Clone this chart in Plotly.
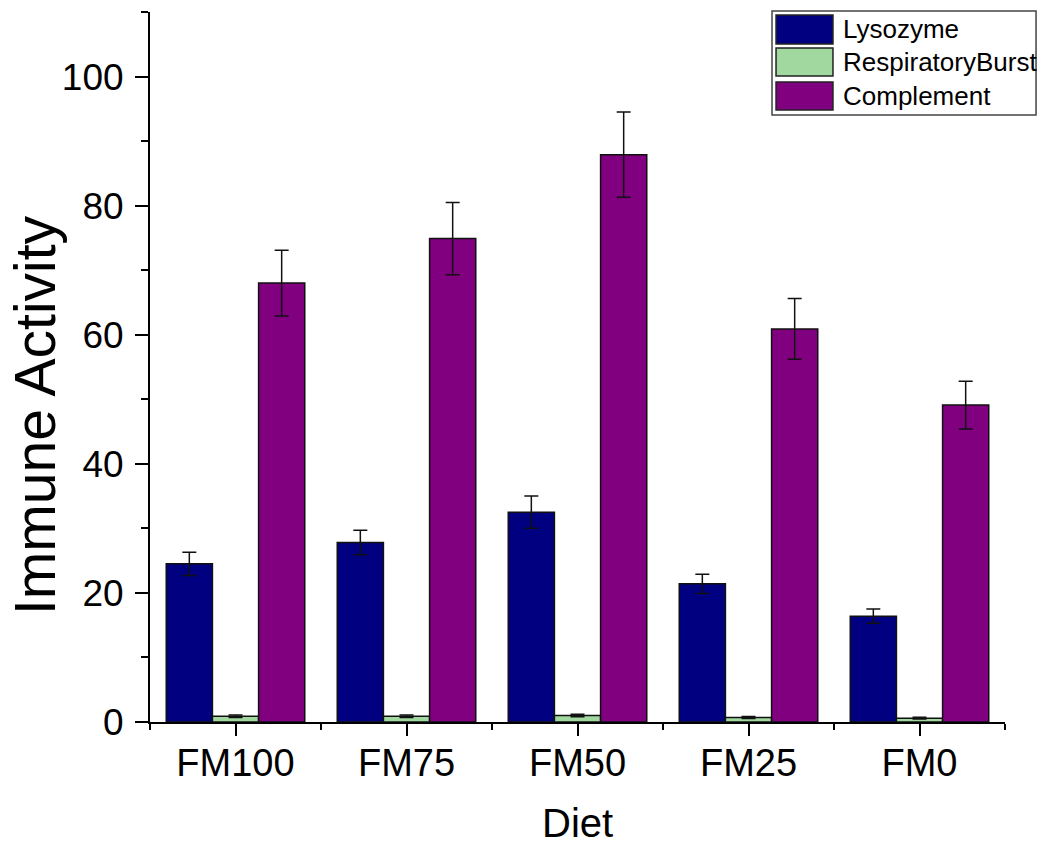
import plotly.graph_objects as go

diets = ["FM100", "FM75", "FM50", "FM25", "FM0"]
lysozyme = [24.5, 27.8, 32.5, 21.4, 16.4]
lysozyme_err = [1.8, 1.9, 2.5, 1.5, 1.1]
resp_burst = [0.9, 0.9, 1.0, 0.7, 0.6]
resp_burst_err = [0.2, 0.2, 0.2, 0.15, 0.15]
complement = [68.0, 74.9, 87.9, 60.9, 49.1]
complement_err = [5.1, 5.6, 6.6, 4.7, 3.7]

series = [
    ("Lysozyme", lysozyme, lysozyme_err, "#000080"),
    ("RespiratoryBurst", resp_burst, resp_burst_err, "#A0D8A0"),
    ("Complement", complement, complement_err, "#800080"),
]

FONT = "Liberation Sans, Arial, sans-serif"
xpos = list(range(len(diets)))

fig = go.Figure()
for name, vals, errs, col in series:
    fig.add_trace(go.Bar(
        x=xpos, y=vals, name=name,
        marker=dict(color=col, line=dict(color="#111111", width=1.5)),
        error_y=dict(type="data", array=errs, visible=True,
                     color="#111111", thickness=1.5, width=7),
        showlegend=False,
    ))

# manual legend (large swatches as in reference)
rows = [(0.9958, 0.9549, 0.9754), (0.9493, 0.9099, 0.9296), (0.9014, 0.8620, 0.8817)]
shapes = [dict(type="rect", xref="paper", yref="paper", x0=0.7275, x1=1.0363,
               y0=0.8549, y1=1.0014, line=dict(color="#444444", width=1.5),
               fillcolor="white", layer="above")]
annotations = []
for (name, _, _, col), (ya, yb, yt) in zip(series, rows):
    shapes.append(dict(type="rect", xref="paper", yref="paper", x0=0.7322, x1=0.7988,
                       y0=yb, y1=ya, fillcolor=col, line=dict(color="#222222", width=1.5),
                       layer="above"))
    annotations.append(dict(xref="paper", yref="paper", x=0.8082, y=yt, text=name,
                            showarrow=False, xanchor="left", yanchor="middle",
                            font=dict(size=26, color="black", family=FONT)))

annotations.append(dict(xref="paper", yref="paper", x=-0.1345, y=0.4324,
                        text="Immune Activity", textangle=-90, showarrow=False,
                        xanchor="center", yanchor="middle",
                        font=dict(size=57, color="black", family=FONT)))
annotations.append(dict(xref="paper", yref="paper", x=0.5, y=-0.1758,
                        text="Diet", showarrow=False, xanchor="center", yanchor="bottom",
                        font=dict(size=40, color="black", family=FONT)))

fig.update_layout(
    width=1038, height=847,
    margin=dict(l=150, r=33, t=12, b=125),
    paper_bgcolor="white", plot_bgcolor="white",
    barmode="group", bargap=0.19, bargroupgap=0,
    font=dict(family=FONT, color="black"),
    shapes=shapes, annotations=annotations,
    xaxis=dict(
        range=[-0.5, 4.5], tickmode="array", tickvals=xpos, ticktext=diets,
        showline=True, linecolor="black", linewidth=2, mirror=False,
        ticks="outside", ticklen=12, tickwidth=2, tickcolor="black",
        tickfont=dict(size=38, family=FONT, color="black"),
        ticklabelstandoff=-6,
        minor=dict(tickmode="array", tickvals=[-0.5, 0.5, 1.5, 2.5, 3.5, 4.5],
                   ticks="outside", ticklen=6, tickwidth=2, tickcolor="black"),
        showgrid=False, zeroline=False,
    ),
    yaxis=dict(
        range=[0, 110], tickmode="array", tickvals=[0, 20, 40, 60, 80, 100],
        showline=True, linecolor="black", linewidth=2, mirror=False,
        ticks="outside", ticklen=13, tickwidth=2, tickcolor="black",
        tickfont=dict(size=37, family=FONT, color="black"),
        ticklabelstandoff=4,
        minor=dict(tickmode="array", tickvals=[10, 30, 50, 70, 90, 110],
                   ticks="outside", ticklen=7, tickwidth=2, tickcolor="black"),
        showgrid=False, zeroline=False,
    ),
)

# remove the default 8px page margin so the figure fills the window exactly
fig.write_html(
    "out.html",
    config={"displayModeBar": False},
    post_script="document.body.style.margin='0';document.body.style.overflow='hidden';",
)
